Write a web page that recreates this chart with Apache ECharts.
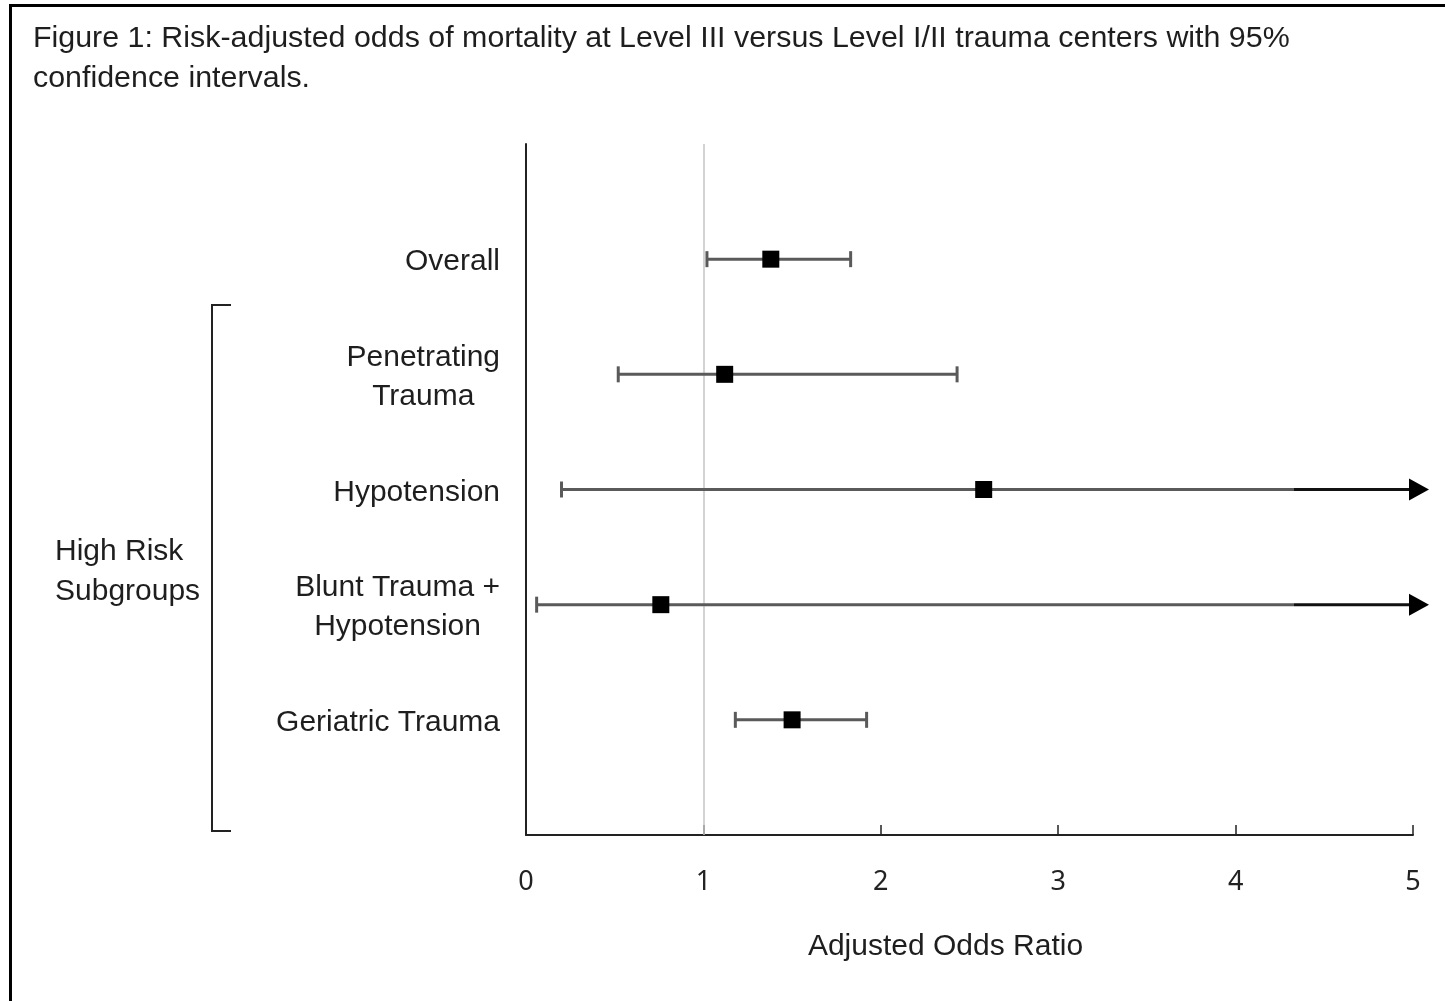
<!DOCTYPE html>
<html>
<head>
<meta charset="utf-8">
<script src="https://cdn.jsdelivr.net/npm/echarts@6/dist/echarts.min.js"></script>
<style>
  html, body { margin: 0; padding: 0; background: #ffffff; }
  #chart { width: 1445px; height: 1001px; }
</style>
</head>
<body>
<div id="chart"></div>
<script>
// ---- data ----
const categories = ['Overall', 'Penetrating\nTrauma', 'Hypotension', 'Blunt Trauma +\nHypotension', 'Geriatric Trauma'];
const oddsRatio = [1.38, 1.12, 2.58, 0.76, 1.50];
const ciLower   = [1.02, 0.52, 0.20, 0.06, 1.18];
const ciUpper   = [1.83, 2.43, null, null, 1.92]; // null = upper limit beyond the axis (drawn as arrow)
const xTicks = [0, 1, 2, 3, 4, 5];
const referenceOR = 1;
const titleText = 'Figure 1: Risk-adjusted odds of mortality at Level III versus Level I/II trauma centers with 95%\nconfidence intervals.';
const xAxisName = 'Adjusted Odds Ratio';
const groupLabel = 'High Risk\nSubgroups';

const xMin = xTicks[0], xMax = xTicks[xTicks.length - 1];
const yCats = [''].concat(categories).concat(['']);

const ciData = categories.map((c, i) => ({
  value: [ciLower[i], ciUpper[i] == null ? xMax : ciUpper[i], i + 1, ciUpper[i] == null ? 1 : 0]
}));
const pointData = categories.map((c, i) => [oddsRatio[i], i + 1]);

const barColor = '#5a5a5a';

function renderCI(params, api) {
  const yIdx = api.value(2);
  const lo = api.coord([api.value(0), yIdx]);
  const hi = api.coord([api.value(1), yIdx]);
  const open = api.value(3) === 1;
  const capH = 8;
  const children = [];
  const lw = 3;
  if (!open) {
    children.push({ type: 'line', shape: { x1: lo[0], y1: lo[1], x2: hi[0], y2: hi[1] }, style: { stroke: barColor, lineWidth: lw } });
    children.push({ type: 'line', shape: { x1: hi[0], y1: hi[1] - capH, x2: hi[0], y2: hi[1] + capH }, style: { stroke: barColor, lineWidth: lw } });
  } else {
    const base = hi[0] - 4;
    const tip = hi[0] + 16;
    const blackStart = base - 115;
    children.push({ type: 'line', shape: { x1: lo[0], y1: lo[1], x2: blackStart, y2: lo[1] }, style: { stroke: barColor, lineWidth: lw } });
    children.push({ type: 'line', shape: { x1: blackStart, y1: lo[1], x2: base + 2, y2: lo[1] }, style: { stroke: '#111', lineWidth: lw } });
    children.push({ type: 'polygon', shape: { points: [[base, lo[1] - 11], [tip, lo[1]], [base, lo[1] + 11]] }, style: { fill: '#000' } });
  }
  children.push({ type: 'line', shape: { x1: lo[0], y1: lo[1] - capH, x2: lo[0], y2: lo[1] + capH }, style: { stroke: barColor, lineWidth: lw } });
  return { type: 'group', children: children };
}

const chart = echarts.init(document.getElementById('chart'), null, { renderer: 'canvas' });
chart.setOption({
  backgroundColor: '#ffffff',
  animation: false,
  title: {
    text: titleText,
    left: 33,
    top: 19,
    padding: 0,
    textStyle: { fontFamily: 'Liberation Sans', fontSize: 30.4, fontWeight: 'normal', color: '#1e1e1e', lineHeight: 40 }
  },
  grid: { left: 526, right: 32, top: 144, bottom: 166, containLabel: false },
  xAxis: {
    type: 'value',
    min: xMin,
    max: xMax,
    interval: 1,
    name: xAxisName,
    nameLocation: 'middle',
    nameGap: 95,
    nameTextStyle: { fontFamily: 'Liberation Sans', fontSize: 30, color: '#1e1e1e', lineHeight: 34, padding: [0, 48, 0, 0] },
    axisLine: { show: true, lineStyle: { color: '#222', width: 2 } },
    axisTick: { show: true, inside: true, length: 10, lineStyle: { color: '#222', width: 1.5 } },
    splitLine: { show: false },
    axisLabel: { fontFamily: 'Noto Sans', fontSize: 27, color: '#222', margin: 33, lineHeight: 28 }
  },
  yAxis: {
    type: 'category',
    data: yCats,
    inverse: true,
    boundaryGap: false,
    axisLine: { show: true, lineStyle: { color: '#222', width: 2 } },
    axisTick: { show: false },
    splitLine: { show: false },
    axisLabel: {
      interval: 0,
      margin: 26,
      align: 'right',
      fontFamily: 'Liberation Sans',
      fontSize: 30,
      color: '#1e1e1e',
      padding: [6, 0, 0, 0],
      formatter: function (v) {
        if (!v) return '';
        return v.split('\n').map(s => '{c|' + s + '}').join('\n');
      },
      rich: { c: { align: 'center', fontFamily: 'Liberation Sans', fontSize: 30, color: '#1e1e1e', lineHeight: 39 } }
    }
  },
  series: [
    {
      type: 'custom',
      name: 'CI',
      renderItem: renderCI,
      data: ciData,
      clip: false,
      encode: { x: [0, 1], y: 2 },
      z: 3
    },
    {
      type: 'scatter',
      name: 'OR',
      data: pointData,
      symbol: 'rect',
      symbolSize: 17,
      itemStyle: { color: '#000', opacity: 1 },
      z: 5,
      markLine: {
        silent: true,
        symbol: 'none',
        label: { show: false },
        lineStyle: { color: '#c4c4c4', width: 1.5, type: 'solid' },
        data: [{ xAxis: referenceOR }],
        z: 1
      }
    }
  ],
  graphic: [
    { type: 'rect', shape: { x: 10.5, y: 5.5, width: 1500, height: 1100 }, style: { fill: 'none', stroke: '#000', lineWidth: 3 }, silent: true },
    { type: 'polyline', shape: { points: [[231, 305], [212, 305], [212, 831], [231, 831]] }, style: { stroke: '#222', lineWidth: 2, fill: 'none' }, silent: true },
    { type: 'text', left: 55, top: 532, style: { text: groupLabel, fontFamily: 'Liberation Sans', fontSize: 30, fill: '#1e1e1e', lineHeight: 40 }, silent: true }
  ]
});
</script>
</body>
</html>
